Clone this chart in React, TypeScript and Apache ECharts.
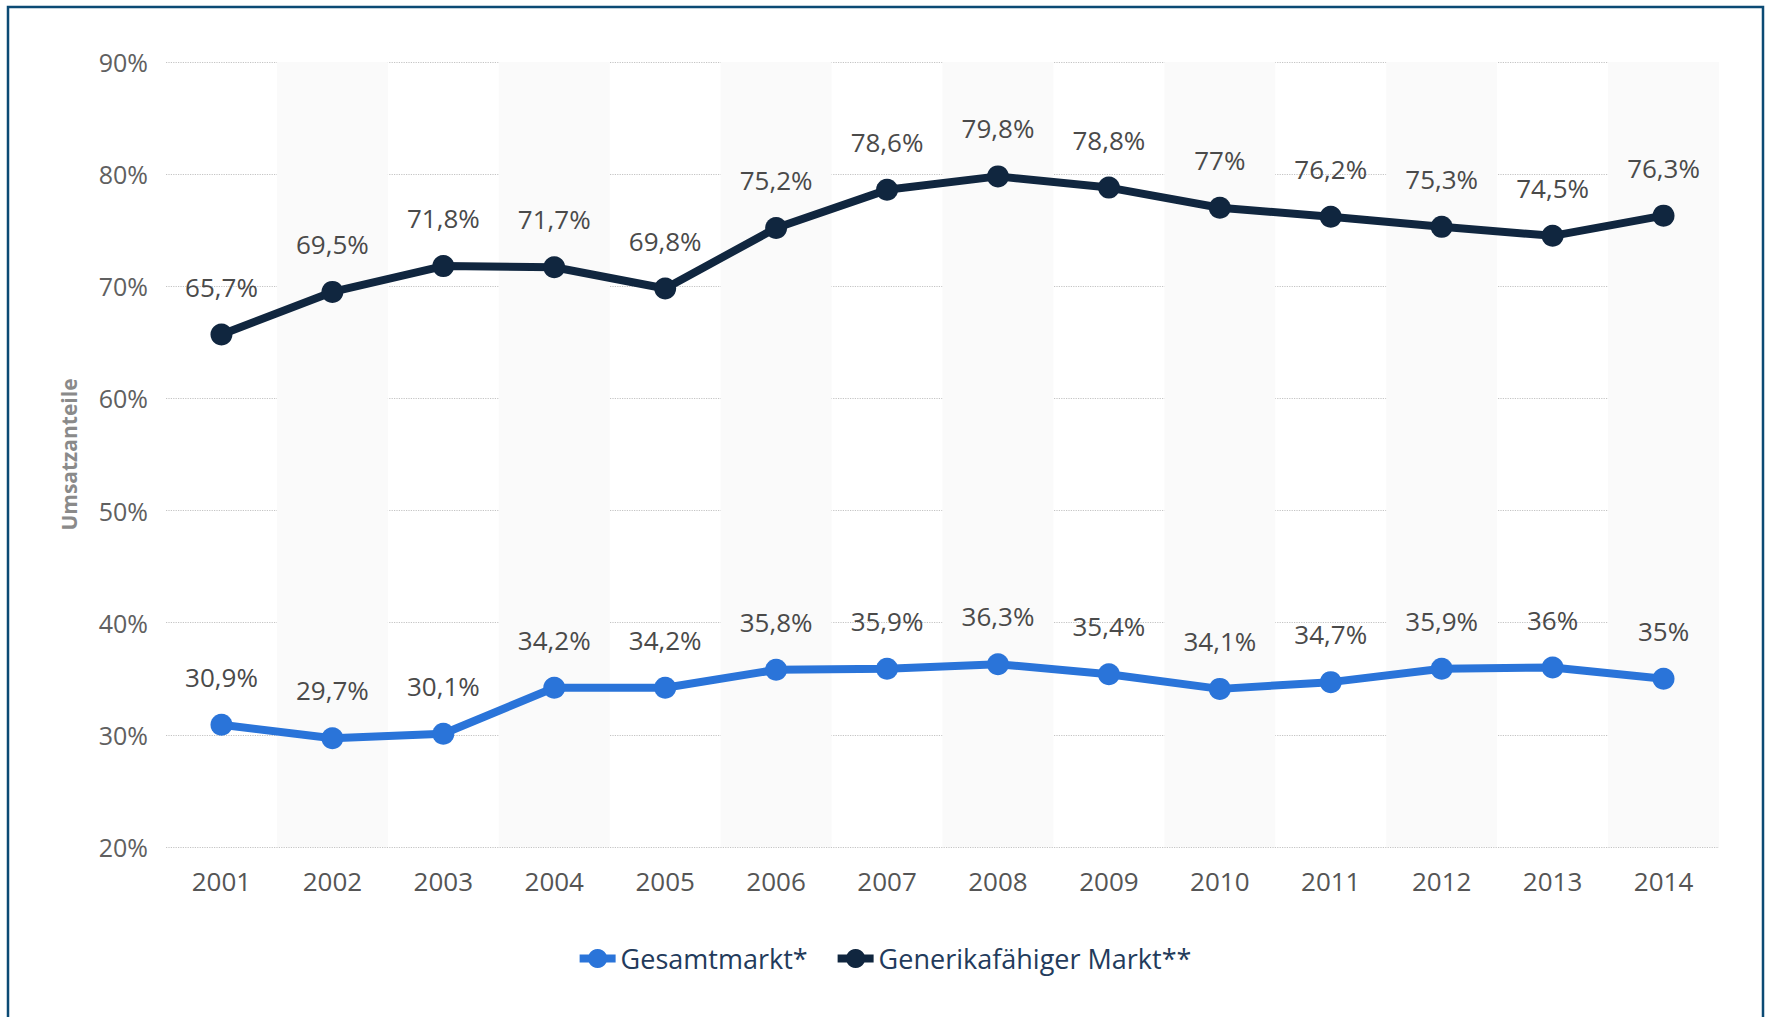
import React, { useEffect, useRef } from "react";
import * as echarts from "echarts";

const years = ["2001", "2002", "2003", "2004", "2005", "2006", "2007", "2008", "2009", "2010", "2011", "2012", "2013", "2014"];
const gesamtmarkt = [30.9, 29.7, 30.1, 34.2, 34.2, 35.8, 35.9, 36.3, 35.4, 34.1, 34.7, 35.9, 36, 35];
const generikafaehig = [65.7, 69.5, 71.8, 71.7, 69.8, 75.2, 78.6, 79.8, 78.8, 77, 76.2, 75.3, 74.5, 76.3];
const seriesNames = ["Gesamtmarkt*", "Generikafähiger Markt**"];
const axisName = "Umsatzanteile";

const FONT = "Open Sans";
const fmt = (v: number) => String(v).replace(".", ",") + "%";

export default function App() {
  const ref = useRef<HTMLDivElement>(null);
  useEffect(() => {
    document.body.style.margin = "0";
    const chart = echarts.init(ref.current!, null, { renderer: "svg" });
    const labelStyle = {
      show: true,
      position: "top" as const,
      distance: 24,
      fontFamily: FONT,
      fontSize: 26,
      color: "#4a4a4a",
      formatter: (p: any) => fmt(p.value),
    };
    chart.setOption({
      animation: false,
      backgroundColor: "#ffffff",
      textStyle: { fontFamily: FONT },
      graphic: [
        {
          type: "rect",
          shape: { x: 8, y: 7, width: 1755, height: 1040 },
          style: { fill: "none", stroke: "#0b4a74", lineWidth: 2.5 },
          silent: true,
        },
      ],
      grid: { left: 166, right: 48, top: 62, bottom: 170 },
      legend: {
        bottom: 40,
        left: "center",
        itemWidth: 36,
        itemHeight: 24,
        itemGap: 26,
        lineStyle: { width: 8 },
        textStyle: { fontFamily: FONT, fontSize: 27, color: "#233b5c" },
        data: seriesNames,
      },
      xAxis: {
        type: "category",
        data: years,
        boundaryGap: true,
        axisLine: { show: false },
        axisTick: { show: false },
        axisLabel: { margin: 21, fontFamily: FONT, fontSize: 26, color: "#555555" },
        splitLine: { show: false },
        splitArea: { show: true, areaStyle: { color: ["rgba(255,255,255,0)", "#fafafa"] } },
      },
      yAxis: {
        type: "value",
        min: 20,
        max: 90,
        interval: 10,
        name: axisName,
        nameLocation: "middle",
        nameGap: 87,
        nameRotate: 90,
        nameTextStyle: { fontFamily: FONT, fontSize: 21, color: "#8a8a8a", fontWeight: "bold" },
        axisLine: { show: false },
        axisTick: { show: false },
        axisLabel: { margin: 18, fontFamily: FONT, fontSize: 25, color: "#606060", formatter: (v: number) => v + "%" },
        splitLine: { show: true, lineStyle: { type: "dotted", color: "#c4c4c4", width: 1.2 } },
      },
      series: [
        {
          name: seriesNames[0],
          type: "line",
          data: gesamtmarkt,
          symbol: "circle",
          symbolSize: 22,
          color: "#2a74d9",
          lineStyle: { width: 8, color: "#2a74d9" },
          itemStyle: { color: "#2a74d9" },
          label: labelStyle,
          z: 3,
        },
        {
          name: seriesNames[1],
          type: "line",
          data: generikafaehig,
          symbol: "circle",
          symbolSize: 22,
          color: "#10263f",
          lineStyle: { width: 8, color: "#10263f" },
          itemStyle: { color: "#10263f" },
          label: labelStyle,
          z: 3,
        },
      ],
    });
    return () => chart.dispose();
  }, []);
  return <div ref={ref} style={{ width: 1767, height: 1017 }} />;
}
